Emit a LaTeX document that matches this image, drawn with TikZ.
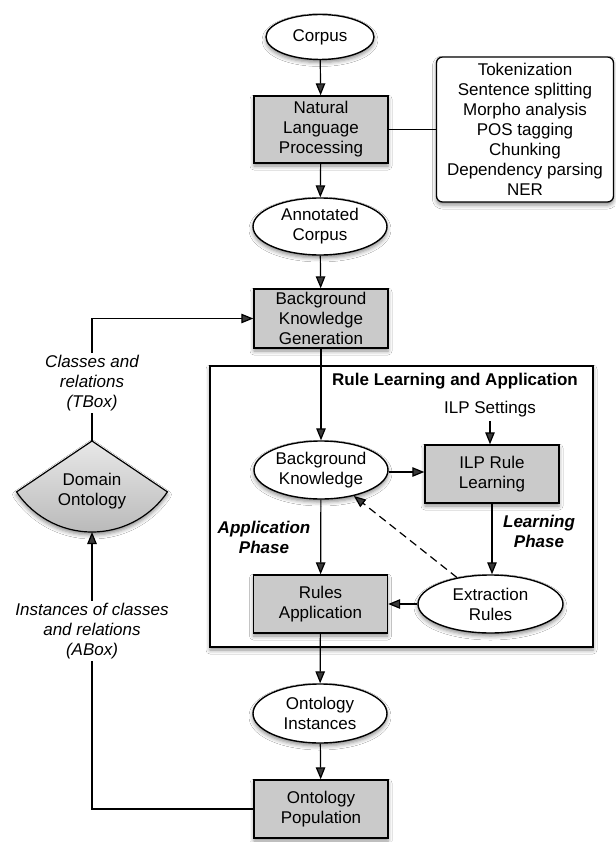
\documentclass[tikz,border=0pt]{standalone}
\usepackage{fontspec}
\setmainfont{Liberation Sans}
\usetikzlibrary{arrows.meta,shapes.geometric,shadows.blur}
\definecolor{boxgray}{RGB}{202,202,202}
\begin{document}
\begin{tikzpicture}[x=1pt,y=-1pt,
  font=\fontsize{17}{20}\selectfont,
  line width=1.2pt,
  sh/.style={blur shadow={shadow xshift=0pt,shadow yshift=-3pt,shadow blur radius=4pt,shadow opacity=45}},
  procbox/.style={draw, line width=1.4pt, fill=boxgray, minimum width=134pt, inner sep=0pt, align=center, sh},
  ell/.style={ellipse, draw, line width=1.4pt, fill=white, inner sep=0pt, align=center, sh},
  lbl/.style={align=center, font=\fontsize{17}{20}\selectfont\itshape, fill=white, inner sep=2pt},
  bi/.style={align=center, font=\fontsize{17}{20}\selectfont\bfseries\itshape},
  conn/.style={-{Triangle[length=12pt,width=9.5pt]}, line width=1.2pt},
]
\useasboundingbox (0,0) rectangle (615,842);
\fill[white] (0,0) rectangle (615,842);

% tasks box
\node[draw, line width=1.3pt, rounded corners=6pt, fill=white, sh, minimum width=177pt, minimum height=145pt, align=center, inner sep=0pt] (tasks) at (525,129.5)
  {Tokenization\\Sentence splitting\\Morpho analysis\\POS tagging\\Chunking\\Dependency parsing\\NER};

% rule learning container
\node[draw, line width=1.1pt, fill=white, sh, minimum width=383pt, minimum height=281pt, inner sep=0pt] (rlbox) at (401.5,506.5) {};
\node[font=\fontsize{17}{20}\selectfont\bfseries] (title) at (455,381) {Rule Learning and Application};

% main flow
\node[ell, minimum width=108pt, minimum height=45pt] (corpus) at (320,37) {Corpus};
\node[procbox, minimum height=67pt] (nlp) at (321,129.5) {Natural\\Language\\Processing};
\node[ell, minimum width=134pt, minimum height=57pt] (acorpus) at (320,226.5) {Annotated\\Corpus};
\node[procbox, minimum height=59pt] (bkg) at (321,318.5) {Background\\Knowledge\\Generation};

\node (ilps) at (490,409) {ILP Settings};
\node[ell, minimum width=134pt, minimum height=58pt] (bk) at (321,470) {Background\\Knowledge};
\node[procbox, minimum height=58pt] (ilp) at (492,474) {ILP Rule\\Learning};
\node[bi] (lp) at (539,531.5) {Learning\\Phase};
\node[bi] (ap) at (264,537.5) {Application\\Phase};
\node[procbox, minimum height=58pt] (ra) at (320.5,604) {Rules\\Application};
\node[ell, minimum width=145pt, minimum height=58pt] (er) at (490.5,604) {Extraction\\Rules};

\node[ell, minimum width=134pt, minimum height=59pt] (oi) at (320,713.5) {Ontology\\Instances};
\node[procbox, minimum height=58pt] (op) at (321,809) {Ontology\\Population};

% domain ontology sector
\coordinate (doTop) at (92,441);
\coordinate (doBot) at (92,532);
\path[draw, line width=1.2pt, top color=gray!18, bottom color=gray!55, sh]
  (doTop) -- ++(146:91) arc[start angle=146, end angle=34, radius=91] -- cycle;
\node[align=center] (dom) at (92,491) {Domain\\Ontology};

% connectors
\draw[conn] (corpus) -- (nlp);
\draw (nlp) -- (tasks);
\draw[conn] (nlp) -- (acorpus);
\draw[conn] (acorpus) -- (bkg);
\draw[conn] (bkg) -- (bk);
\draw[conn] (ilps) -- (ilps |- ilp.north);
\draw[conn] (bk.east |- 0,472) -- (ilp.west |- 0,472);
\draw[conn] (ilp) -- (ilp |- er.north);
\draw[conn] (bk) -- (ra);
\draw[conn] (er) -- (ra);
\draw[conn, dash pattern=on 8pt off 5pt] (er) -- (bk);
\draw[conn] (ra) -- (oi);
\draw[conn] (oi) -- (op);
\draw[conn] (op.west) -| (doBot);
\draw[conn] (doTop) |- (bkg.west);

% labels on the loop
\node[lbl] (tbox) at (92,383) {Classes and\\relations\\(TBox)};
\node[lbl] (abox) at (92,631) {Instances of classes\\and relations\\(ABox)};
\end{tikzpicture}
\end{document}
